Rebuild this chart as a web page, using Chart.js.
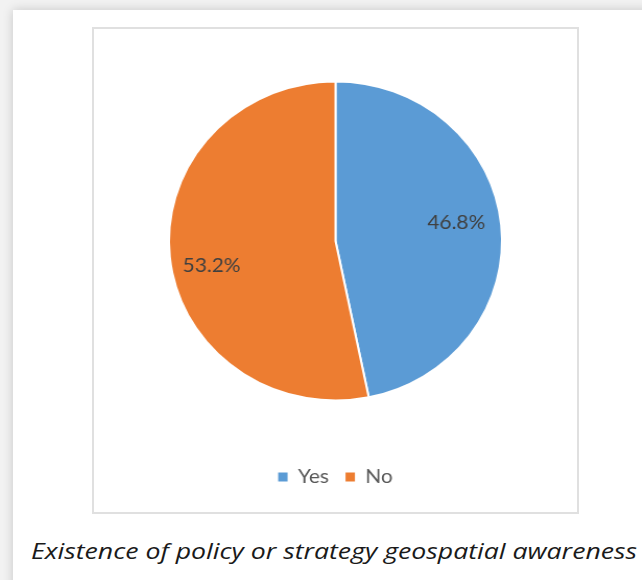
<!DOCTYPE html>
<html><head><meta charset="utf-8">
<script src="https://cdn.jsdelivr.net/npm/chart.js@4.4.1/dist/chart.umd.min.js"></script>
<style>
html,body{margin:0;padding:0;}
body{width:642px;height:580px;background:#f2f2f2;position:relative;overflow:hidden;}
#card{position:absolute;left:13px;top:10px;width:660px;height:600px;background:#fff;box-shadow:0 0 10px rgba(0,0,0,0.18);}
#box{position:absolute;left:79px;top:17px;width:483px;height:483px;border:2px solid #e0e0e0;}
#wrap{position:absolute;left:0;top:0;width:483px;height:483px;transform:scaleX(1.044);transform-origin:241.5px 0;}
#caption{position:absolute;left:18px;top:525px;white-space:nowrap;font-family:"Open Sans",sans-serif;font-style:italic;font-size:22px;line-height:30px;color:#1a1a1a;transform-origin:0 0;}
</style></head>
<body>
<div id="card">
  <div id="box"><div id="wrap"><canvas id="c" width="483" height="483"></canvas></div></div>
  <div id="caption">Existence of policy or strategy geospatial awareness</div>
</div>
<script>
const categories = ["Yes", "No"];
const values = [46.8, 53.2];
const valueLabels = ["46.8%", "53.2%"];
const colors = ["#5B9BD5", "#ED7D31"];

// stretch the caption to the reference's width
const cap = document.getElementById('caption');
cap.style.transform = 'scaleX(' + (606 / cap.getBoundingClientRect().width) + ')';

const labelPlugin = {
  id: 'sliceLabels',
  afterDatasetsDraw(chart, args, opts) {
    const ctx = chart.ctx;
    const meta = chart.getDatasetMeta(0);
    ctx.save();
    ctx.font = opts.font;
    ctx.fillStyle = opts.color;
    ctx.textAlign = 'center';
    ctx.textBaseline = 'middle';
    meta.data.forEach((arc, i) => {
      const p = arc.getProps(['x','y','startAngle','endAngle','outerRadius'], true);
      const a = (p.startAngle + p.endAngle) / 2 + (opts.angleShift[i] || 0) * Math.PI / 180;
      const r = p.outerRadius * opts.radial[i];
      ctx.fillText(valueLabels[i], p.x + Math.cos(a) * r, p.y + Math.sin(a) * r);
    });
    ctx.restore();
  }
};

const defaultGen = Chart.overrides.pie.plugins.legend.labels.generateLabels;

new Chart(document.getElementById('c'), {
  type: 'pie',
  data: {
    labels: categories,
    datasets: [{ data: values, backgroundColor: colors, borderColor: '#ffffff', borderWidth: 2 }]
  },
  options: {
    responsive: false,
    animation: false,
    events: [],
    layout: { padding: { left: 81, right: 81, top: 2, bottom: 15 } },
    plugins: {
      tooltip: { enabled: false },
      legend: {
        position: 'bottom',
        labels: {
          boxWidth: 9, boxHeight: 9, padding: 16,
          color: '#595959',
          font: { family: 'Lato, "Open Sans", sans-serif', size: 20 },
          generateLabels(chart) {
            return defaultGen(chart).map(l => Object.assign(l, { lineWidth: 0, strokeStyle: 'rgba(0,0,0,0)' }));
          }
        }
      },
      sliceLabels: {
        font: '20px Lato, "Open Sans", sans-serif',
        color: '#404040',
        radial: [0.735, 0.76],
        angleShift: [-3.5, -6.0]
      }
    }
  },
  plugins: [labelPlugin]
});
</script>
</body></html>
